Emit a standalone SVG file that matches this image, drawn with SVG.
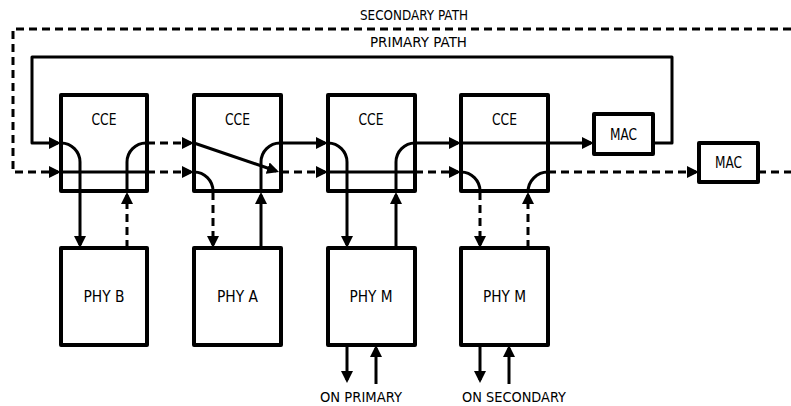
<svg xmlns="http://www.w3.org/2000/svg" width="791" height="406" viewBox="0 0 791 406">
<style>
.box{fill:#fff;stroke:#000;stroke-width:4;stroke-linejoin:round}
.ln{fill:none;stroke:#000;stroke-width:3;stroke-linejoin:round}
.ds{fill:none;stroke:#000;stroke-width:3;stroke-dasharray:8 5}
.ar{marker-end:url(#ah)}
text{font-family:"DejaVu Sans","Liberation Sans",sans-serif;fill:#000}
.lb{font-size:16px;text-anchor:middle}
.pl{font-size:14.5px}
</style>
<defs>
<marker id="ah" viewBox="0 0 12 12" refX="9" refY="6" markerWidth="12" markerHeight="12" markerUnits="userSpaceOnUse" orient="auto">
<path d="M0,0 L12,6 L0,12 z" fill="#000" stroke="none"/>
</marker>
</defs>
<rect width="791" height="406" fill="#fff"/>
<g id="labels">
<text class="pl" x="360" y="20" textLength="108" lengthAdjust="spacingAndGlyphs">SECONDARY PATH</text>
<text class="pl" x="370" y="47" textLength="97" lengthAdjust="spacingAndGlyphs">PRIMARY PATH</text>
<text class="pl" x="320" y="402" textLength="82" lengthAdjust="spacingAndGlyphs">ON PRIMARY</text>
<text class="pl" x="462" y="402" textLength="104" lengthAdjust="spacingAndGlyphs">ON SECONDARY</text>
</g>
<g id="cce1"><rect class="box" x="61" y="95" width="86" height="96"/><text class="lb" x="104" y="125" textLength="25" lengthAdjust="spacingAndGlyphs">CCE</text></g>
<g id="cce2"><rect class="box" x="194" y="95" width="87" height="96"/><text class="lb" x="237.5" y="125" textLength="25" lengthAdjust="spacingAndGlyphs">CCE</text></g>
<g id="cce3"><rect class="box" x="328" y="95" width="87" height="96"/><text class="lb" x="371" y="125" textLength="25" lengthAdjust="spacingAndGlyphs">CCE</text></g>
<g id="cce4"><rect class="box" x="461" y="95" width="87" height="96"/><text class="lb" x="504.5" y="125" textLength="25" lengthAdjust="spacingAndGlyphs">CCE</text></g>
<g id="mac1"><rect class="box" x="594" y="114" width="59" height="40"/><text class="lb" x="623.5" y="140" textLength="27" lengthAdjust="spacingAndGlyphs">MAC</text></g>
<g id="mac2"><rect class="box" x="699" y="143" width="59" height="39"/><text class="lb" x="728.5" y="168" textLength="27" lengthAdjust="spacingAndGlyphs">MAC</text></g>
<g id="phyb"><rect class="box" x="61" y="248" width="86" height="97"/><text class="lb" x="104" y="302" textLength="41" lengthAdjust="spacingAndGlyphs">PHY B</text></g>
<g id="phya"><rect class="box" x="194" y="248" width="87" height="97"/><text class="lb" x="237.5" y="302" textLength="41" lengthAdjust="spacingAndGlyphs">PHY A</text></g>
<g id="phym1"><rect class="box" x="328" y="248" width="87" height="97"/><text class="lb" x="371" y="302" textLength="43" lengthAdjust="spacingAndGlyphs">PHY M</text></g>
<g id="phym2"><rect class="box" x="461" y="248" width="87" height="97"/><text class="lb" x="504.5" y="302" textLength="43" lengthAdjust="spacingAndGlyphs">PHY M</text></g>
<g id="connectors">
<path class="ds ar" d="M791,29 H13 V172 H58"/>
<path class="ln ar" d="M653,143 H672 V57 H32 V143 H58"/>
<path class="ln ar" d="M61,143 A19,19 0 0 1 80,162 V245"/>
<path class="ln" d="M61,172 H147"/>
<path class="ds ar" d="M127,248 V195"/>
<path class="ln" d="M127,192 V162 A19,19 0 0 1 146,143 H147"/>
<path class="ds ar" d="M147,143 H191"/>
<path class="ds ar" d="M147,172 H191"/>
<path class="ln ar" d="M194,143 L276.2,171"/>
<path class="ds ar" d="M281,172 H325"/>
<path class="ln" d="M194,172 A19,19 0 0 1 213,191"/>
<path class="ds ar" d="M213,192 V245"/>
<path class="ln ar" d="M261,248 V195"/>
<path class="ln" d="M261,192 V162 A19,19 0 0 1 280,143 H281"/>
<path class="ln ar" d="M281,143 H325"/>
<path class="ln ar" d="M328,143 A19,19 0 0 1 347,162 V245"/>
<path class="ln" d="M328,172 H415"/>
<path class="ln ar" d="M396,248 V195"/>
<path class="ln" d="M396,192 V162 A19,19 0 0 1 415,143"/>
<path class="ln ar" d="M415,143 H458"/>
<path class="ds ar" d="M415,172 H458"/>
<path class="ln ar" d="M461,143 H591"/>
<path class="ln" d="M461,172 A19,19 0 0 1 480,191"/>
<path class="ds ar" d="M480,192 V245"/>
<path class="ds ar" d="M528,248 V195"/>
<path class="ln" d="M528,192 A20,20 0 0 1 548,172"/>
<path class="ds ar" d="M548,172 H696"/>
<path class="ds" d="M758,172 H791"/>
<path class="ln ar" d="M347,345 V380"/>
<path class="ln ar" d="M376,384 V348"/>
<path class="ln ar" d="M480,345 V380"/>
<path class="ln ar" d="M509,384 V348"/>
</g>
</svg>
